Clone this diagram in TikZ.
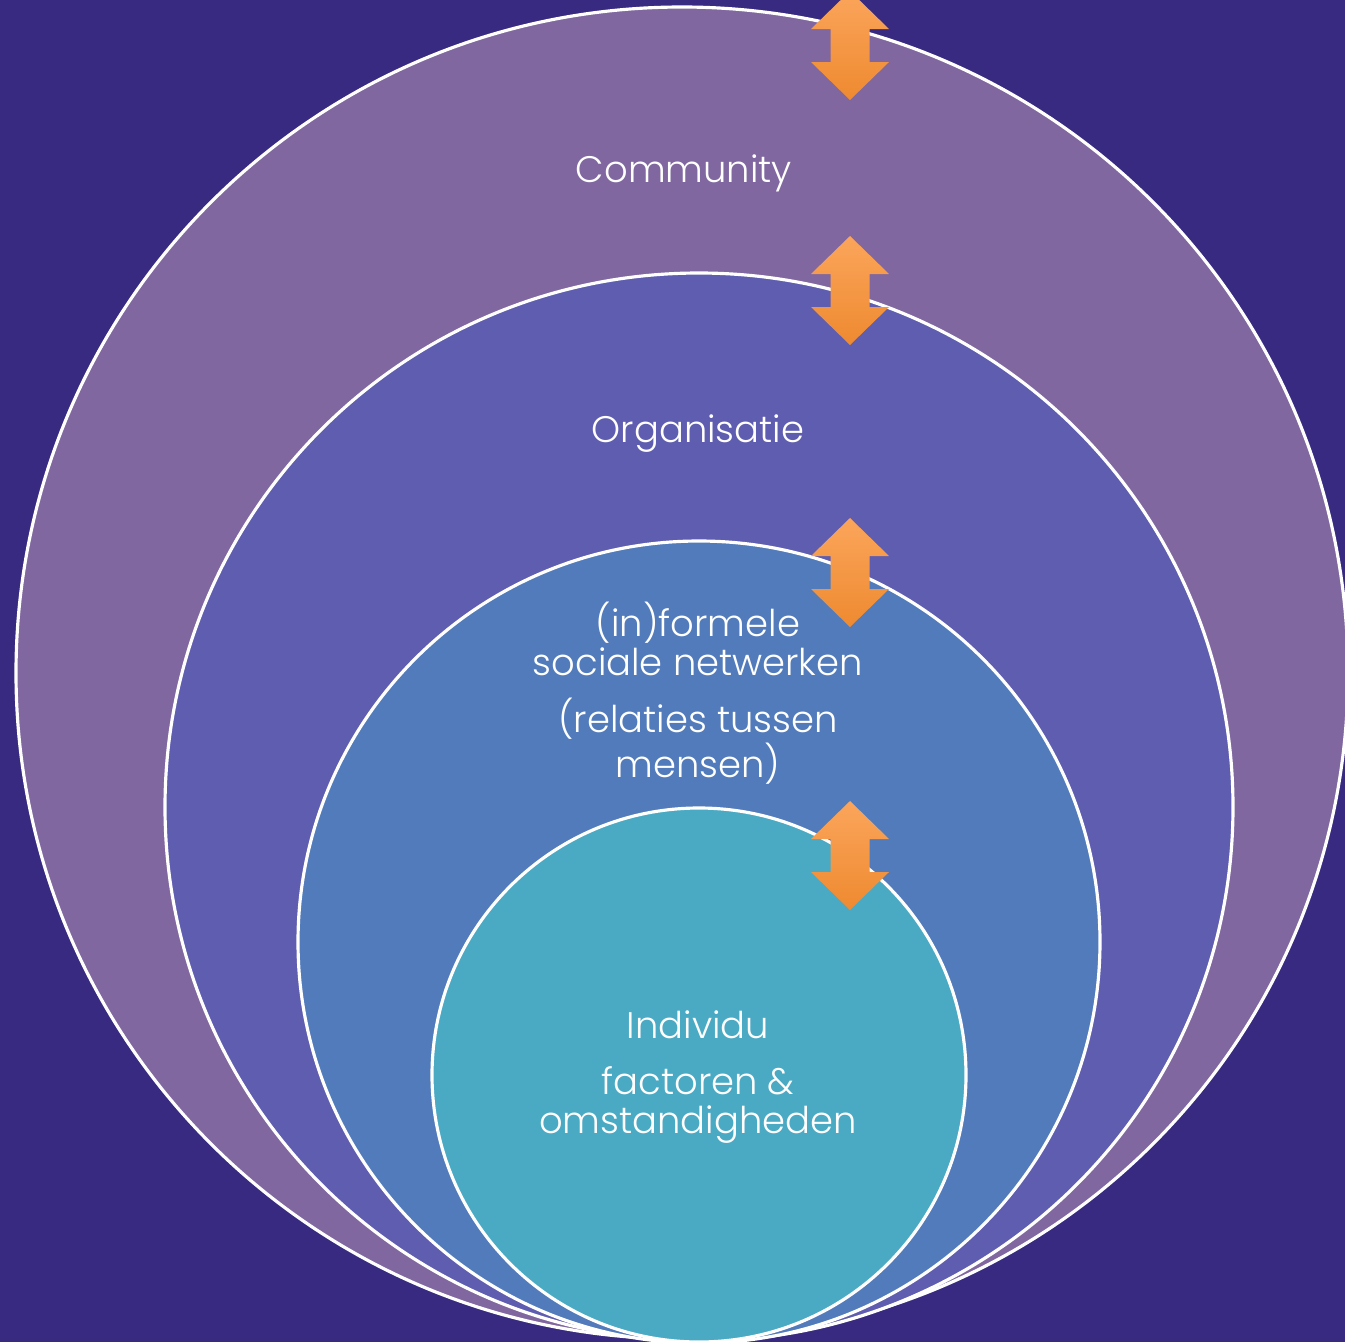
\documentclass[tikz,border=0pt]{standalone}
\usepackage{fontspec}
\setmainfont{Poppins Light}
\definecolor{bgpurple}{HTML}{372A80}
\definecolor{commcol}{HTML}{8067A0}
\definecolor{orgcol}{HTML}{5F5DAF}
\definecolor{netcol}{HTML}{527BBB}
\definecolor{indcol}{HTML}{4AAAC4}
\definecolor{arrowtop}{HTML}{FBA55B}
\definecolor{arrowbot}{HTML}{EE8A30}
\tikzset{
	ring/.style={draw=white,line width=0.9pt},
	label/.style={text=white,align=center,font=\fontsize{10.5}{11.1}\selectfont}
}
% double block arrow, top tip at (#1,#2)
\newcommand{\updown}[2]{%
	\shade[top color=arrowtop,bottom color=arrowbot] (#1,#2) -- ++(39,38) -- ++(-19.5,0) -- ++(0,33) -- ++(19.5,0)
		-- ++(-39,38) -- ++(-39,-38) -- ++(19.5,0) -- ++(0,-33) -- ++(-19.5,0) -- cycle;}
\begin{document}
\begin{tikzpicture}[x=0.01cm,y=-0.01cm]
	\useasboundingbox (0,0) rectangle (1345,1342);
	\fill[bgpurple] (0,0) rectangle (1345,1342);
	\filldraw[ring,fill=commcol] (682,673) circle (666);
	\filldraw[ring,fill=orgcol] (699,807) circle (534);
	\filldraw[ring,fill=netcol] (699,942) circle (401);
	\filldraw[ring,fill=indcol] (699,1075) circle (267);
	\node[label] (community) at (684,173) {Community};
	\node[label] (organisatie) at (698,434) {Organisatie};
	\node[label] (netwerken) at (698,693) {(in)formele\\sociale netwerken\\[5pt](relaties tussen\\mensen)};
	\node[label] (individu) at (698,1077) {Individu\\[5pt]factoren \&\\omstandigheden};
	\updown{850}{-9}
	\updown{850}{236}
	\updown{850}{518}
	\updown{850}{801}
\end{tikzpicture}
\end{document}
